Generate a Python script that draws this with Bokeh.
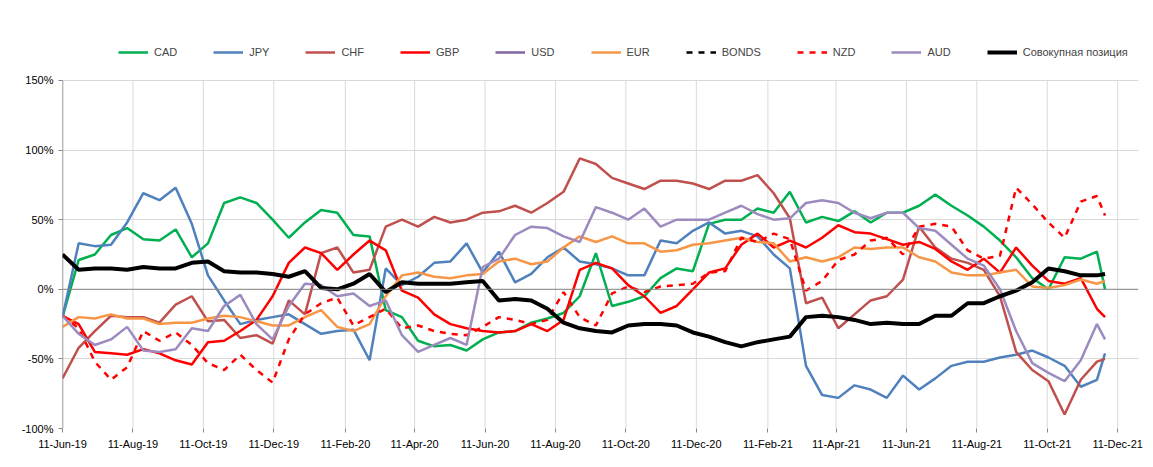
import datetime as dt
from bokeh.plotting import figure
from bokeh.models import Legend, LegendItem, FixedTicker, DatetimeTickFormatter, Span, NumeralTickFormatter, Range1d, ColumnDataSource
from bokeh.embed import file_html
from bokeh.resources import INLINE

start = dt.datetime(2019, 6, 11)
weeks = list(range(0, 129, 2)) + [129]
dates = [start + dt.timedelta(weeks=w) for w in weeks]

total = [25,14,15,15,14,16,15,15,19,20,13,12,12,11,9,13,1,0,4,11,-2,5,4,4,4,5,6,-8,-7,-8,-14,-24,-28,-30,-31,-26,-25,-25,-26,-31,-34,-38,-41,-38,-36,-34,-20,-19,-20,-22,-25,-24,-25,-25,-19,-19,-10,-10,-5,-1,5,15,13,10,10,11]
cad = [-20,21,25,39,44,36,35,43,23,33,62,66,62,50,37,48,57,55,39,38,-15,-20,-37,-41,-40,-44,-36,-31,-30,-24,-21,-17,-5,26,-12,-9,-5,8,15,13,47,50,50,58,55,70,48,52,49,56,48,55,55,60,68,60,53,45,35,23,8,0,23,22,27,0]
jpy = [-20,33,31,32,48,69,64,73,47,10,-8,-25,-22,-20,-18,-25,-32,-30,-29,-51,15,3,9,19,20,33,12,27,5,11,23,30,20,18,15,10,10,35,33,42,48,40,42,38,25,15,-55,-76,-78,-69,-72,-78,-62,-72,-64,-55,-52,-52,-49,-47,-44,-49,-55,-70,-65,-46]
chf = [-64,-42,-30,-19,-20,-20,-24,-11,-5,-23,-22,-35,-33,-39,-8,-18,26,30,12,14,45,50,45,52,48,50,55,56,60,55,62,70,94,90,80,76,72,78,78,76,72,78,78,82,69,51,-10,-6,-28,-18,-8,-5,7,45,30,22,19,14,-5,-45,-58,-66,-90,-65,-52,-50]
gbp = [-19,-25,-45,-46,-47,-43,-46,-51,-54,-38,-37,-30,-22,-5,19,30,26,14,25,35,28,-1,-6,-18,-25,-28,-30,-31,-30,-25,-30,-22,14,19,15,3,-5,-17,-12,0,12,15,32,40,30,35,30,37,46,41,40,36,32,34,29,20,14,22,12,30,17,6,4,8,-14,-20]
usd = []
eur = [-27,-20,-21,-18,-21,-21,-25,-24,-24,-21,-19,-20,-23,-26,-26,-20,-15,-27,-30,-25,-5,10,12,9,8,10,11,20,22,18,20,30,38,34,38,33,33,27,28,32,33,35,37,34,33,20,23,20,23,30,29,30,30,23,20,12,10,10,12,14,2,1,3,7,4,6]
bonds = []
nzd = [-19,-28,-52,-65,-56,-30,-37,-31,-40,-53,-58,-47,-58,-67,-36,-18,-10,-6,-26,-20,-14,-28,-26,-30,-32,-33,-27,-20,-22,-25,-22,-2,-20,-26,-3,2,-2,2,3,4,12,13,37,34,40,36,-1,6,21,25,35,37,25,45,47,45,28,22,24,73,61,48,37,63,67,53]
aud = [-19,-32,-40,-36,-27,-44,-45,-43,-28,-30,-12,-4,-25,-36,-12,4,3,-5,-3,-12,-8,-33,-45,-40,-35,-40,16,22,39,45,44,38,34,59,55,50,58,45,50,50,50,55,60,54,50,51,62,64,62,55,51,55,55,44,42,32,22,17,0,-30,-53,-60,-66,-51,-25,-36]
y_ticks = [-1, -0.5, 0, 0.5, 1, 1.5]

tick_dates = []
y, m = 2019, 6
while (y, m) <= (2021, 12):
    tick_dates.append(dt.datetime(y, m, 11))
    m += 2
    if m > 12:
        m -= 12
        y += 1

p = figure(width=1145, height=459, x_axis_type="datetime", output_backend="svg",
           toolbar_location=None, min_border_left=62, min_border_right=7,
           min_border_bottom=31, min_border_top=35)
p.x_range = Range1d(start, dt.datetime(2021, 12, 29))
p.y_range = Range1d(-1.0, 1.823)
p.outline_line_color = None

p.segment(x0=tick_dates, x1=tick_dates, y0=[y_ticks[0]] * len(tick_dates),
          y1=[y_ticks[-1]] * len(tick_dates), line_color="#D9D9D9", line_width=1)
p.segment(x0=[start], x1=[start], y0=[y_ticks[0]], y1=[y_ticks[-1]], line_color="#868686", line_width=1.5)
p.add_layout(Span(location=0, dimension="width", line_color="#868686", line_width=1))

series = [
    ("CAD", cad, "#00B050", "solid", 2.5),
    ("JPY", jpy, "#4F81BD", "solid", 2.5),
    ("CHF", chf, "#C0504D", "solid", 2.5),
    ("GBP", gbp, "#FF0000", "solid", 2.5),
    ("USD", usd, "#8064A2", "solid", 2.5),
    ("EUR", eur, "#F79646", "solid", 2.5),
    ("BONDS", bonds, "#000000", "dashed", 2.5),
    ("NZD", nzd, "#FF0000", "dashed", 2.5),
    ("AUD", aud, "#9D8BBF", "solid", 2.5),
    ("Совокупная позиция", total, "#000000", "solid", 4),
]
items = []
for name, vals, color, dash, w in series:
    if vals:
        src = ColumnDataSource(dict(x=dates[:len(vals)], y=[v / 100 for v in vals]))
    else:
        src = ColumnDataSource(dict(x=[start, start], y=[5.0, 5.0]))
    r = p.line("x", "y", source=src, line_color=color, line_width=w, line_dash=dash)
    items.append(LegendItem(label=name, renderers=[r]))

leg = Legend(items=items, orientation="horizontal", location=(56, 366),
             label_text_font="Liberation Sans", label_text_font_size="11px",
             glyph_width=30, label_standoff=6, spacing=36, border_line_color=None,
             background_fill_alpha=0, margin=0, padding=4)
p.add_layout(leg)

p.xaxis.ticker = FixedTicker(ticks=[d.timestamp() * 1000 for d in tick_dates])
p.xaxis.formatter = DatetimeTickFormatter(days="%d-%b-%y", months="%d-%b-%y", years="%d-%b-%y")
p.yaxis.ticker = FixedTicker(ticks=y_ticks)
p.yaxis.formatter = NumeralTickFormatter(format="0%")
for ax in (p.xaxis[0], p.yaxis[0]):
    ax.major_label_text_font = "Liberation Sans"
    ax.major_label_text_font_size = "11px"
    ax.major_label_text_color = "#000000"
    ax.axis_line_color = None
    ax.major_tick_line_color = "#868686"
    ax.minor_tick_line_color = None
    ax.major_tick_in = 0
    ax.major_tick_out = 4
p.xgrid.grid_line_color = None
p.ygrid.grid_line_color = "#D9D9D9"

open("out.html", "w").write(file_html(p, INLINE))
